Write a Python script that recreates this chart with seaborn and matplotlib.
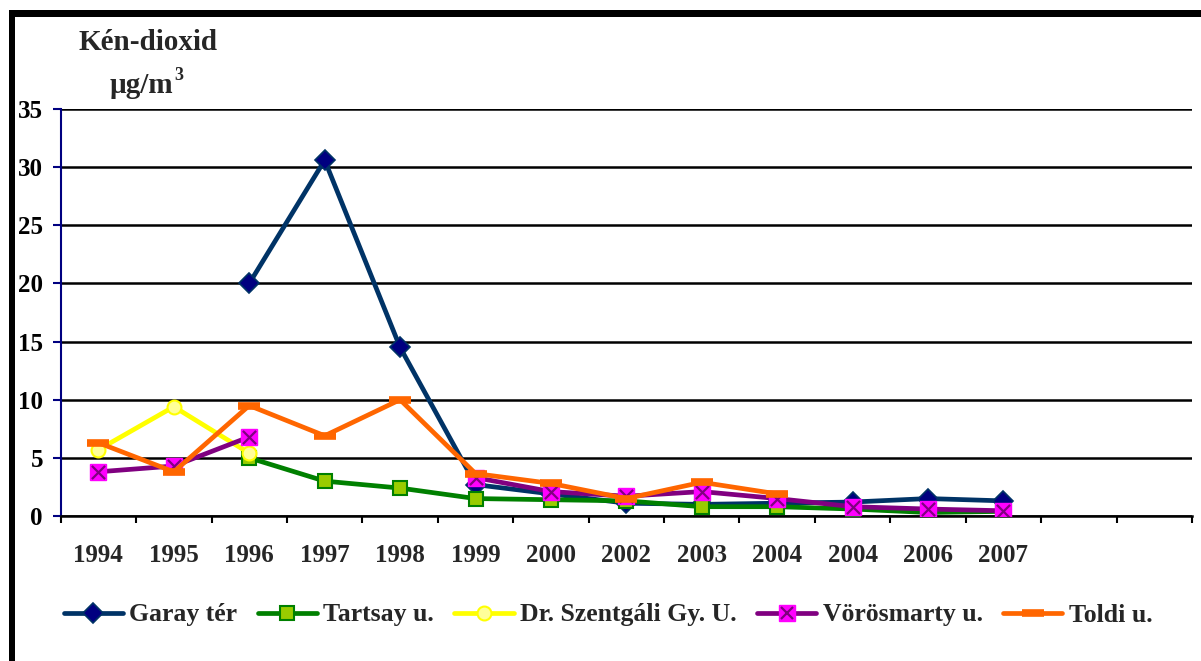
import numpy as np
import matplotlib
matplotlib.use("Agg")
import matplotlib.pyplot as plt
from matplotlib.lines import Line2D
from matplotlib.patches import Rectangle
from matplotlib.legend_handler import HandlerTuple
import seaborn as sns

# adatok
years = ['1994', '1995', '1996', '1997', '1998', '1999', '2000',
         '2002', '2003', '2004', '2004', '2006', '2007']
n_slots = 15
nan = np.nan
garay = [nan, nan, 20.0, 30.6, 14.5, 2.7, 1.9, 1.1, 1.0, 1.1, 1.2, 1.5, 1.3]
tartsay = [nan, nan, 5.0, 3.0, 2.4, 1.5, 1.4, 1.3, 0.8, 0.8, 0.6, 0.3, 0.4]
szentgali = [5.7, 9.4, 5.4, nan, nan, nan, nan, nan, nan, nan, nan, nan, nan]
vorosmarty = [3.8, 4.3, 6.8, nan, nan, 3.3, 2.1, 1.7, 2.1, 1.5, 0.8, 0.6, 0.45]
toldi = [6.3, 3.8, 9.5, 6.9, 10.0, 3.65, 2.8, 1.5, 2.9, 1.9, nan, nan, nan]
labels = ['Garay tér', 'Tartsay u.', 'Dr. Szentgáli Gy. U.', 'Vörösmarty u.', 'Toldi u.']

sns.set_style("white")
plt.rcParams['font.family'] = ['Liberation Serif', 'DejaVu Serif']
plt.rcParams['font.weight'] = 'bold'

styles = [
    dict(color='#003366', marker='D', markersize=10, markerfacecolor='#000080',
         markeredgecolor='#003366', markeredgewidth=1.2),
    dict(color='#008000', marker='s', markersize=10, markerfacecolor='#99CC00',
         markeredgecolor='#008000', markeredgewidth=1.5),
    dict(color='#FFFF00', marker='o', markersize=10, markerfacecolor='#FFFF99',
         markeredgecolor='#FFFF00', markeredgewidth=1.5),
    dict(color='#800080', marker='s', markersize=11, markerfacecolor='#FF00FF',
         markeredgecolor='#FF00FF', markeredgewidth=1),
    dict(color='#FF6600', marker='_', markersize=16, markerfacecolor='#FF6600',
         markeredgecolor='#FF6600', markeredgewidth=5.5),
]
series = [garay, tartsay, szentgali, vorosmarty, toldi]


def runs(vals):
    segs, cur = [], []
    for i, v in enumerate(vals):
        if np.isnan(v):
            if cur:
                segs.append(cur)
            cur = []
        else:
            cur.append(i)
    if cur:
        segs.append(cur)
    return segs


fig = plt.figure(figsize=(12.01, 6.61), dpi=100)
ax = fig.add_axes([60.7 / 1201, 1 - 516 / 661, (1192 - 60.7) / 1201, (516 - 109) / 661])

for k, (vals, st) in enumerate(zip(series, styles)):
    for seg in runs(vals):
        xs = np.array(seg, dtype=float)
        ys = np.array([vals[i] for i in seg])
        sns.lineplot(x=xs, y=ys, ax=ax, linewidth=3.4, legend=False,
                     zorder=3 + k, **st)
    if k == 3:
        idx = [i for i, v in enumerate(vals) if not np.isnan(v)]
        sns.scatterplot(x=np.array(idx, dtype=float), y=[vals[i] for i in idx], ax=ax,
                        marker='x', s=90, color='#800080', linewidth=1.6,
                        zorder=3.5 + k, legend=False)

ax.set_xlim(-0.5, n_slots - 0.5)
ax.set_ylim(0, 35)
ax.set_yticks(np.arange(0, 36, 5))
ax.set_xticks(np.arange(len(years)))
ax.set_xticklabels(years)
ax.set_xticks(np.arange(-0.5, n_slots, 1), minor=True)
ax.set_xlabel('')
ax.set_ylabel('')

ax.yaxis.grid(True, color='black', linewidth=1.8)
ax.set_axisbelow(True)
for s in ['top', 'right']:
    ax.spines[s].set_visible(False)
ax.spines['left'].set_color('#000080')
ax.spines['left'].set_linewidth(1.5)
ax.spines['bottom'].set_color('black')
ax.spines['bottom'].set_linewidth(1.8)

ax.tick_params(axis='y', which='major', left=True, length=5.8, width=1.5,
               color='#000080', pad=7, labelsize=18, labelcolor='black')
ax.tick_params(axis='x', which='major', bottom=True, length=0, pad=20, labelsize=18)
ax.tick_params(axis='x', which='minor', bottom=True, length=5, width=1.5, color='black')
for t in ax.get_xticklabels() + ax.get_yticklabels():
    t.set_fontweight('bold')

# cím
fig.text(148 / 1201, 1 - 50 / 661, 'Kén-dioxid', ha='center', va='baseline',
         fontsize=21, fontweight='bold')
fig.text(110 / 1201, 1 - 93 / 661, 'µg/m', ha='left', va='baseline',
         fontsize=21, fontweight='bold')
fig.text(174 / 1201, 1 - 80 / 661, '3', ha='left', va='baseline',
         fontsize=13, fontweight='bold')

# keret
fig.add_artist(Rectangle((9 / 1201, 0), 6 / 1201, 651 / 661, transform=fig.transFigure,
                         color='black', lw=0))
fig.add_artist(Rectangle((9 / 1201, 1 - 17 / 661), 1192 / 1201, 7 / 661,
                         transform=fig.transFigure, color='black', lw=0))

# jelmagyarázat
handles = []
for k, st in enumerate(styles):
    h = Line2D([], [], linewidth=3.4, **st)
    if k == 3:
        hx = Line2D([], [], linestyle='none', marker='x', markersize=9,
                    markeredgecolor='#800080', markeredgewidth=1.6)
        h = (h, hx)
    handles.append(h)
fig.legend(handles, labels, loc='center', bbox_to_anchor=(608 / 1201, 1 - 615 / 661),
           ncol=5, frameon=False, handlelength=2.3, handletextpad=0.25,
           columnspacing=0.8, numpoints=1,
           prop={'size': 18.5, 'weight': 'bold'},
           handler_map={tuple: HandlerTuple(ndivide=1)})

fig.savefig('out.png', dpi=100)
